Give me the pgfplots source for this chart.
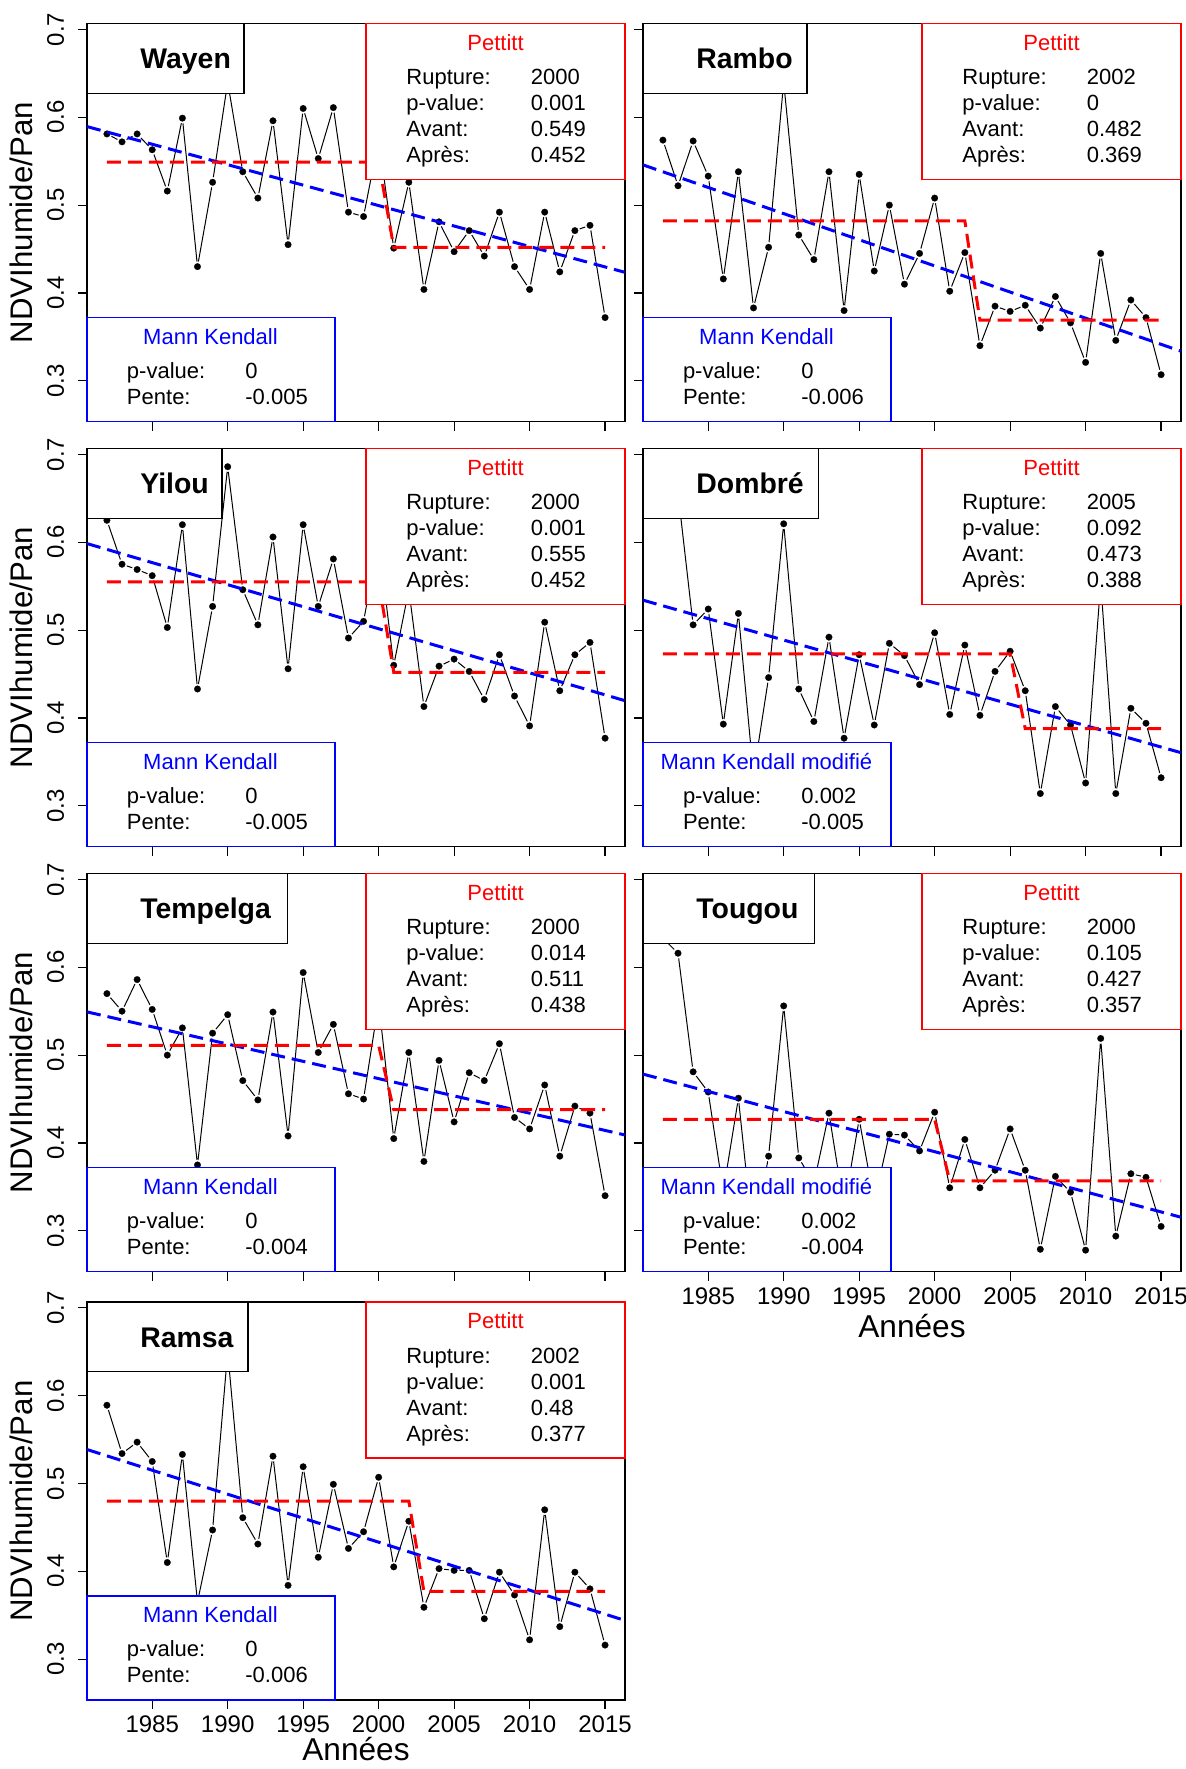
\documentclass[border=0pt]{standalone}
\usepackage{fontspec}
\setmainfont{Liberation Sans}
\usepackage{pgfplots}
\pgfplotsset{compat=1.18}
\usepackage{pgfplotstable}

\definecolor{rred}{RGB}{255,0,0}
\definecolor{rblue}{RGB}{0,0,255}
\newcommand\legfont{\fontsize{11}{13}\selectfont}

\pgfplotsset{
 panel/.style={
  clip mode=individual,
  scale only axis, width=269pt, height=199pt,
  xmin=1980.68, xmax=2016.32, ymin=0.2535, ymax=0.7065,
  xtick={1985,1990,1995,2000,2005,2010,2015},
  ytick={0.3,0.4,0.5,0.6,0.7},
  tick pos=left, tick align=outside, major tick length=4.5pt,
  axis line style={line width=0.6pt, black},
  every tick/.append style={line width=0.6pt, black},
  tick label style={font=\fontsize{12}{14}\selectfont},
  /pgf/number format/assume math mode=true,
  yticklabel style={rotate=90, anchor=south, inner ysep=6.8pt},
  xticklabels={}, yticklabels={},
  anchor=south west,
 },
 lefty/.style={yticklabels={0.3,0.4,0.5,0.6,0.7}},
 bottomx/.style={xticklabels={1985,1990,1995,2000,2005,2010,2015}},
 dataline/.style={black, line width=0.5pt, no markers},
 halo/.style={only marks, color=white, mark=*, mark size=2.6pt, mark options={solid, fill=white, draw=white, line width=0.1pt}},
 dots/.style={only marks, color=black, mark=*, mark size=1.65pt, mark options={solid, fill=black, draw=black, line width=0.1pt}},
 trend/.style={rblue, line width=1.5pt, dash pattern=on 7pt off 3.5pt, no markers},
 pett/.style={rred, line width=1.5pt, dash pattern=on 7pt off 3.5pt, no markers},
}

% #1 name, #2 name box width, #3 rupture, #4 pval, #5 avant, #6 apres, #7 MK title, #8 MK pval, #9 pente
\newcommand\decor[9]{%
 \draw[black, line width=0.6pt, fill=white] (rel axis cs:0,1) rectangle ([xshift=#2, yshift=-34.85pt]rel axis cs:0,1);
 \node[anchor=base west, inner sep=0pt, font=\fontsize{14.2}{16}\selectfont\bfseries] at ([xshift=26.5pt, yshift=-22.5pt]rel axis cs:0,1) {#1};
 \draw[rred, line width=0.6pt, fill=white] ([xshift=-129.5pt]rel axis cs:1,1) rectangle ([yshift=-78pt]rel axis cs:1,1);
 \node[anchor=base, inner sep=0pt, font=\legfont, text=rred] at ([xshift=-64.75pt, yshift=-13.25pt]rel axis cs:1,1) {Pettitt};
 \node[anchor=base west, inner sep=0pt, font=\legfont] at ([xshift=-109.5pt, yshift=-30.6pt]rel axis cs:1,1) {Rupture:};
 \node[anchor=base west, inner sep=0pt, font=\legfont] at ([xshift=-109.5pt, yshift=-43.6pt]rel axis cs:1,1) {p-value:};
 \node[anchor=base west, inner sep=0pt, font=\legfont] at ([xshift=-109.5pt, yshift=-56.6pt]rel axis cs:1,1) {Avant:};
 \node[anchor=base west, inner sep=0pt, font=\legfont] at ([xshift=-109.5pt, yshift=-69.6pt]rel axis cs:1,1) {Après:};
 \node[anchor=base west, inner sep=0pt, font=\legfont] at ([xshift=-47.3pt, yshift=-30.6pt]rel axis cs:1,1) {#3};
 \node[anchor=base west, inner sep=0pt, font=\legfont] at ([xshift=-47.3pt, yshift=-43.6pt]rel axis cs:1,1) {#4};
 \node[anchor=base west, inner sep=0pt, font=\legfont] at ([xshift=-47.3pt, yshift=-56.6pt]rel axis cs:1,1) {#5};
 \node[anchor=base west, inner sep=0pt, font=\legfont] at ([xshift=-47.3pt, yshift=-69.6pt]rel axis cs:1,1) {#6};
 \draw[rblue, line width=0.6pt, fill=white] (rel axis cs:0,0) rectangle ([xshift=124pt, yshift=52pt]rel axis cs:0,0);
 \node[anchor=base, inner sep=0pt, font=\legfont, text=rblue] at ([xshift=61.75pt, yshift=38.6pt]rel axis cs:0,0) {#7};
 \node[anchor=base west, inner sep=0pt, font=\legfont] at ([xshift=19.8pt, yshift=21.6pt]rel axis cs:0,0) {p-value:};
 \node[anchor=base west, inner sep=0pt, font=\legfont] at ([xshift=19.8pt, yshift=8.6pt]rel axis cs:0,0) {Pente:};
 \node[anchor=base west, inner sep=0pt, font=\legfont] at ([xshift=79pt, yshift=21.6pt]rel axis cs:0,0) {#8};
 \node[anchor=base west, inner sep=0pt, font=\legfont] at ([xshift=79pt, yshift=8.6pt]rel axis cs:0,0) {#9};
}
\newcommand\ylab{\node[rotate=90, inner sep=0pt, font=\fontsize{15.6}{18}\selectfont] at ([xshift=-32.75pt]rel axis cs:0,0.5) {NDVIhumide/Pan};}
\newcommand\xlab[1]{\node[inner sep=0pt, font=\fontsize{15.8}{18}\selectfont] at ([yshift=#1]rel axis cs:0.5,0) {Années};}
\newcommand\series[1]{%
 \addplot[dataline] table[x=year,y=v]{#1};
 \addplot[halo] table[x=year,y=v]{#1};
 \addplot[dots] table[x=year,y=v]{#1};
}

\pgfplotstableread{
year v
1982 0.581
1983 0.572
1984 0.581
1985 0.563
1986 0.516
1987 0.599
1988 0.430
1989 0.526
1990 0.640
1991 0.538
1992 0.508
1993 0.596
1994 0.455
1995 0.610
1996 0.553
1997 0.611
1998 0.492
1999 0.487
2000 0.575
2001 0.451
2002 0.526
2003 0.404
2004 0.481
2005 0.447
2006 0.471
2007 0.442
2008 0.492
2009 0.430
2010 0.404
2011 0.492
2012 0.424
2013 0.471
2014 0.477
2015 0.372
}\wayen

\pgfplotstableread{
year v
1982 0.574
1983 0.522
1984 0.573
1985 0.533
1986 0.416
1987 0.538
1988 0.383
1989 0.452
1990 0.640
1991 0.466
1992 0.438
1993 0.538
1994 0.380
1995 0.535
1996 0.425
1997 0.500
1998 0.410
1999 0.445
2000 0.508
2001 0.402
2002 0.446
2003 0.340
2004 0.385
2005 0.379
2006 0.386
2007 0.360
2008 0.396
2009 0.366
2010 0.321
2011 0.445
2012 0.346
2013 0.392
2014 0.372
2015 0.307
}\rambo

\pgfplotstableread{
year v
1982 0.625
1983 0.575
1984 0.569
1985 0.562
1986 0.503
1987 0.620
1988 0.433
1989 0.527
1990 0.686
1991 0.546
1992 0.506
1993 0.606
1994 0.456
1995 0.620
1996 0.527
1997 0.581
1998 0.491
1999 0.510
2000 0.602
2001 0.460
2002 0.546
2003 0.413
2004 0.459
2005 0.467
2006 0.453
2007 0.421
2008 0.472
2009 0.425
2010 0.391
2011 0.509
2012 0.431
2013 0.472
2014 0.486
2015 0.377
}\yilou

\pgfplotstableread{
year v
1982 0.680
1983 0.656
1984 0.506
1985 0.524
1986 0.393
1987 0.519
1988 0.335
1989 0.446
1990 0.621
1991 0.433
1992 0.396
1993 0.492
1994 0.377
1995 0.472
1996 0.392
1997 0.485
1998 0.471
1999 0.438
2000 0.497
2001 0.404
2002 0.483
2003 0.403
2004 0.453
2005 0.476
2006 0.431
2007 0.314
2008 0.413
2009 0.392
2010 0.326
2011 0.554
2012 0.314
2013 0.411
2014 0.394
2015 0.332
}\dombre

\pgfplotstableread{
year v
1982 0.570
1983 0.550
1984 0.586
1985 0.552
1986 0.500
1987 0.531
1988 0.375
1989 0.525
1990 0.546
1991 0.471
1992 0.449
1993 0.549
1994 0.408
1995 0.594
1996 0.503
1997 0.535
1998 0.456
1999 0.450
2000 0.560
2001 0.405
2002 0.503
2003 0.379
2004 0.494
2005 0.424
2006 0.480
2007 0.471
2008 0.513
2009 0.429
2010 0.416
2011 0.466
2012 0.385
2013 0.442
2014 0.434
2015 0.340
}\tempelga

\pgfplotstableread{
year v
1982 0.633
1983 0.616
1984 0.481
1985 0.458
1986 0.345
1987 0.451
1988 0.288
1989 0.385
1990 0.556
1991 0.383
1992 0.354
1993 0.434
1994 0.326
1995 0.427
1996 0.333
1997 0.410
1998 0.409
1999 0.391
2000 0.435
2001 0.349
2002 0.404
2003 0.349
2004 0.369
2005 0.416
2006 0.369
2007 0.279
2008 0.362
2009 0.344
2010 0.278
2011 0.519
2012 0.294
2013 0.365
2014 0.361
2015 0.305
}\tougou

\pgfplotstableread{
year v
1982 0.589
1983 0.534
1984 0.547
1985 0.525
1986 0.410
1987 0.533
1988 0.365
1989 0.447
1990 0.650
1991 0.461
1992 0.431
1993 0.531
1994 0.384
1995 0.519
1996 0.416
1997 0.499
1998 0.426
1999 0.445
2000 0.507
2001 0.405
2002 0.457
2003 0.359
2004 0.403
2005 0.401
2006 0.401
2007 0.346
2008 0.399
2009 0.373
2010 0.322
2011 0.470
2012 0.337
2013 0.399
2014 0.380
2015 0.316
}\ramsa

\begin{document}
\begin{tikzpicture}
\useasboundingbox (0,0) rectangle (593pt,884.5pt);

% Wayen
\begin{axis}[panel, lefty, at={(43.5pt,673.65pt)}]
\series{\wayen}
\addplot[trend] coordinates {(1980.68,0.5894) (2016.32,0.4235)};
\addplot[pett] coordinates {(1982,0.549) (2000,0.549) (2001,0.452) (2015,0.452)};
\decor{Wayen}{78.5pt}{2000}{0.001}{0.549}{0.452}{Mann Kendall}{0}{-0.005}
\ylab
\end{axis}

% Rambo
\begin{axis}[panel, at={(321.5pt,673.65pt)}]
\series{\rambo}
\addplot[trend] coordinates {(1980.68,0.5458) (2016.32,0.3337)};
\addplot[pett] coordinates {(1982,0.482) (2002,0.482) (2003,0.369) (2015,0.369)};
\decor{Rambo}{82pt}{2002}{0}{0.482}{0.369}{Mann Kendall}{0}{-0.006}
\end{axis}

% Yilou
\begin{axis}[panel, lefty, at={(43.5pt,461.15pt)}]
\series{\yilou}
\addplot[trend] coordinates {(1980.68,0.5985) (2016.32,0.4197)};
\addplot[pett] coordinates {(1982,0.555) (2000,0.555) (2001,0.452) (2015,0.452)};
\decor{Yilou}{67.5pt}{2000}{0.001}{0.555}{0.452}{Mann Kendall}{0}{-0.005}
\ylab
\end{axis}

% Dombre
\begin{axis}[panel, at={(321.5pt,461.15pt)}]
\series{\dombre}
\addplot[trend] coordinates {(1980.68,0.5341) (2016.32,0.3605)};
\addplot[pett] coordinates {(1982,0.473) (2005,0.473) (2006,0.388) (2015,0.388)};
\decor{Dombré}{87.9pt}{2005}{0.092}{0.473}{0.388}{Mann Kendall modifié}{0.002}{-0.005}
\end{axis}

% Tempelga
\begin{axis}[panel, lefty, at={(43.5pt,248.65pt)}]
\series{\tempelga}
\addplot[trend] coordinates {(1980.68,0.5492) (2016.32,0.4091)};
\addplot[pett] coordinates {(1982,0.511) (2000,0.511) (2001,0.438) (2015,0.438)};
\decor{Tempelga}{100.4pt}{2000}{0.014}{0.511}{0.438}{Mann Kendall}{0}{-0.004}
\ylab
\end{axis}

% Tougou
\begin{axis}[panel, bottomx, at={(321.5pt,248.65pt)}]
\series{\tougou}
\addplot[trend] coordinates {(1980.68,0.4784) (2016.32,0.3155)};
\addplot[pett] coordinates {(1982,0.427) (2000,0.427) (2001,0.357) (2015,0.357)};
\decor{Tougou}{85.8pt}{2000}{0.105}{0.427}{0.357}{Mann Kendall modifié}{0.002}{-0.004}
\xlab{-27.4pt}
\end{axis}

% Ramsa
\begin{axis}[panel, lefty, bottomx, at={(43.5pt,34.5pt)}]
\series{\ramsa}
\addplot[trend] coordinates {(1980.68,0.5386) (2016.32,0.344)};
\addplot[pett] coordinates {(1982,0.48) (2002,0.48) (2003,0.377) (2015,0.377)};
\decor{Ramsa}{80.5pt}{2002}{0.001}{0.48}{0.377}{Mann Kendall}{0}{-0.006}
\ylab
\xlab{-24.3pt}
\end{axis}
\end{tikzpicture}
\end{document}
